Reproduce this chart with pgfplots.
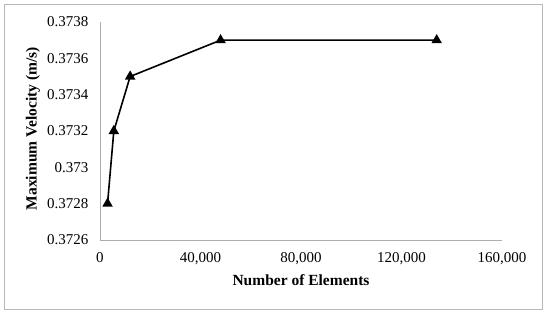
\documentclass[border=0pt]{standalone}
\usepackage{fontspec}
\setmainfont{Liberation Serif}
\usepackage{pgfplots}
\pgfplotsset{compat=1.18}
\begin{document}
\begin{tikzpicture}
\useasboundingbox (0pt,0pt) rectangle (550pt,-313pt);
\draw[line width=1pt, color=black!28] (4.5pt,-4.5pt) rectangle (542.5pt,-309pt);
\begin{axis}[
  at={(100pt,-240pt)}, anchor=south west,
  width=402pt, height=218pt, scale only axis,
  xmin=0, xmax=160000, ymin=0.3726, ymax=0.3738,
  scaled x ticks=false, scaled y ticks=false,
  axis x line=bottom, axis y line=left,
  axis line style={-, draw=black!32, line width=0.9pt},
  major tick length=0pt,
  xtick={0,40000,80000,120000,160000},
  xticklabels={0,{40,000},{80,000},{120,000},{160,000}},
  ytick={0.3726,0.3728,0.373,0.3732,0.3734,0.3736,0.3738},
  yticklabels={0.3726,0.3728,0.373,0.3732,0.3734,0.3736,0.3738},
  tick label style={font=\fontsize{15}{18}\selectfont},
  xticklabel style={anchor=base, yshift=-22pt},
  yticklabel style={anchor=east, xshift=-8pt},
  xlabel={\textbf{Number of Elements}},
  ylabel={\textbf{Maximum Velocity (m/s)}},
  label style={font=\fontsize{15.5}{18}\selectfont},
  xlabel style={at={(axis description cs:0.5,-0.183)}, anchor=center},
  ylabel style={at={(axis description cs:-0.167,0.51)}, anchor=center},
  clip=false,
]
\addplot[black, line width=1.6pt, mark=triangle*, mark size=4.5pt,
  mark options={solid}] coordinates {
  (3000,0.3728) (5500,0.3732) (12000,0.3735) (48000,0.3737) (134000,0.3737)
};
\end{axis}
\end{tikzpicture}
\end{document}
